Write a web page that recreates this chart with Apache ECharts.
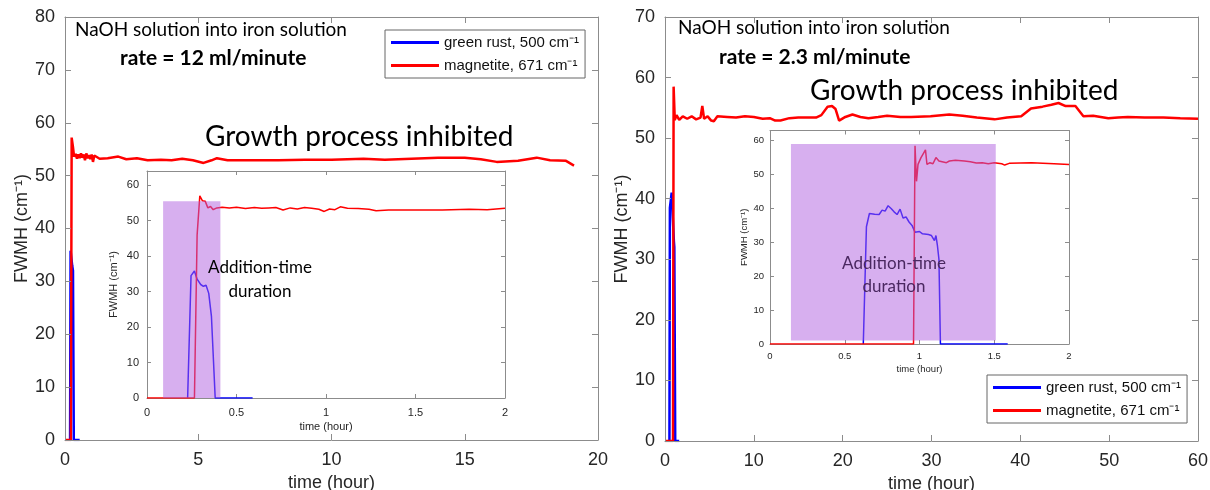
<!DOCTYPE html>
<html><head><meta charset="utf-8">
<script src="https://cdn.jsdelivr.net/npm/echarts@6/dist/echarts.min.js"></script>
<style>html,body{margin:0;padding:0;background:#fff}#c{width:1210px;height:490px}</style>
</head><body><div id="c"></div>
<script>
// ---------- data ----------
const seriesNames = ['green rust, 500 cm⁻¹', 'magnetite, 671 cm⁻¹'];
const leftMainTicks = { xMax: 20, xStep: 5, yMax: 80, yStep: 10 };
const rightMainTicks = { xMax: 60, xStep: 10, yMax: 70, yStep: 10 };
const insetTicks = { xMax: 2, xStep: 0.5, yStep: 10 };

const leftMainBlue = [[0.19,0],[0.21,35.8],[0.27,33],[0.3,32],[0.33,0],[0.55,0]];
const leftMainRed = [[0,0],[0.22,0],[0.25,57.2],[0.3,55.4],[0.34,53.6],[0.4,54.1],[0.45,53.2],[0.5,54.0],[0.55,53.3],[0.6,54.2],[0.65,53.4],[0.7,54.0],[0.75,52.9],[0.8,54.2],[0.85,53.3],[0.9,53.9],[0.95,53.1],[1.0,54.0],[1.05,52.6],[1.1,53.8],[1.3,53.2],[1.6,53.3],[2.0,53.6],[2.3,53.1],[2.7,53.3],[3.1,52.9],[3.6,53.0],[4.0,52.9],[4.4,53.2],[4.8,52.9],[5.2,52.4],[5.5,52.9],[5.7,53.3],[6.1,52.9],[7,52.9],[8,52.9],[9,53.0],[10,53.0],[11.2,53.2],[12,53.0],[13,53.2],[14,53.4],[15,53.4],[15.6,53.1],[16.2,52.6],[17,52.8],[17.7,53.4],[18.2,52.9],[18.8,52.8],[19.1,51.9]];

const leftInsetBlue = [[0.227,0],[0.246,34.5],[0.265,35.8],[0.28,33.5],[0.3,32],[0.315,31.5],[0.33,31.8],[0.345,29.5],[0.36,23],[0.381,0],[0.59,0]];
const leftInsetRed = [[0,0],[0.265,0],[0.28,46],[0.295,57],[0.31,55.6],[0.325,55.5],[0.34,53.6],[0.355,54.0],[0.37,53.1],[0.39,53.6],[0.42,53.8],[0.46,53.6],[0.5,53.8],[0.55,53.4],[0.6,53.7],[0.64,53.5],[0.68,53.6],[0.72,53.7],[0.76,53.0],[0.8,53.6],[0.84,53.3],[0.88,53.7],[0.92,53.5],[0.96,53.2],[0.99,52.6],[1.02,53.3],[1.05,53.1],[1.08,53.9],[1.12,53.5],[1.18,53.4],[1.24,53.2],[1.28,52.8],[1.35,53.0],[1.5,53.0],[1.65,53.0],[1.8,53.2],[1.9,53.1],[2.0,53.5]];
const leftInsetBand = [0.09, 0.41, 0, 55.5];
const leftInsetYMax = 64;

const rightMainBlue = [[0.5,0],[0.55,38.5],[0.75,41],[1.0,33],[1.05,32],[1.15,0],[1.6,0]];
const rightMainRed = [[0,0],[0.9,0],[0.97,58.5],[1.1,53],[1.3,53.8],[1.6,53],[2,53.6],[2.5,53.2],[3,53.6],[3.5,53.1],[4.0,53.4],[4.2,55.3],[4.4,53.2],[4.8,53.6],[5.2,52.9],[5.5,52.8],[5.9,53.6],[7,53.5],[8,53.4],[9,53.6],[10,53.5],[11,53.2],[11.8,53.3],[12.4,52.9],[13,52.9],[14,53.3],[15,53.4],[16,53.4],[17,53.4],[17.6,53.8],[18.3,55.2],[18.8,55.3],[19.2,54.8],[19.6,52.9],[20.3,53.5],[21.1,53.9],[22,53.5],[22.9,53.3],[24,53.5],[25,53.7],[26.5,53.5],[27.7,53.5],[29.9,53.6],[32,53.9],[33.5,53.7],[35.1,53.4],[37.1,53.1],[38.5,53.4],[40.1,53.6],[41.2,54.9],[42.5,55.2],[43.5,55.5],[44.3,55.8],[45.1,55.3],[46.2,55.3],[47.1,53.6],[48.2,53.7],[49.9,53.3],[51,53.4],[52.1,53.5],[54,53.4],[56.1,53.4],[58,53.3],[60,53.2]];

const rightInsetBlue = [[0.624,0],[0.645,34.6],[0.665,38.5],[0.7,38.3],[0.73,38.2],[0.75,39.5],[0.77,39.2],[0.79,40.8],[0.81,40],[0.83,39],[0.85,38.2],[0.87,39.8],[0.89,37.2],[0.91,37.5],[0.93,36],[0.95,35],[0.97,33],[1.0,33.2],[1.02,32.5],[1.06,32.3],[1.08,32],[1.1,30.5],[1.11,32],[1.12,29],[1.13,25],[1.14,0],[1.59,0]];
const rightInsetRed = [[0,0],[0.96,0],[0.97,58.5],[0.98,48],[0.99,53],[1.01,55],[1.04,57.3],[1.05,53],[1.07,53.5],[1.09,53.2],[1.11,55],[1.13,54],[1.18,53.5],[1.2,54],[1.24,54.2],[1.3,54],[1.34,53.8],[1.38,53.4],[1.42,53.5],[1.46,53.2],[1.5,53.5],[1.55,53.2],[1.57,52.8],[1.6,53.3],[1.75,53.5],[1.9,53.2],[2.0,53.0]];
const rightInsetBand = [0.14, 1.51, 1, 59];
const rightInsetYMax = 63;

// ---------- build ----------
const AX = '#8c8c8c', LB = '#262626';
const grids = [
  { left: 65, top: 17, width: 533, height: 423, z: 2, outerBoundsMode: 'none', containLabel: false },
  { left: 665, top: 17, width: 533, height: 424, z: 2, outerBoundsMode: 'none', containLabel: false },
  { left: 147, top: 171, width: 358, height: 227, z: 5, show: true, backgroundColor: '#fff', borderWidth: 0, outerBoundsMode: 'none', containLabel: false },
  { left: 770, top: 130.5, width: 299, height: 213.5, z: 5, show: true, backgroundColor: '#fff', borderWidth: 0, outerBoundsMode: 'none', containLabel: false }
];
const xAxes = [], yAxes = [];
function addAxes(gi, xmax, xstep, ymax, ystep, o) {
  const z = o.z;
  const common = { gridIndex: gi, min: 0, splitLine: { show: false }, z: z,
    axisLine: { show: true, onZero: false, lineStyle: { color: AX, width: 1 } },
    axisTick: { show: true, inside: true, length: o.tick, lineStyle: { color: AX } } };
  xAxes.push(Object.assign({}, common, { type: 'value', position: 'bottom', max: xmax, interval: xstep,
    axisLabel: { color: LB, fontSize: o.lab, fontFamily: 'Liberation Sans', margin: o.xlm },
    name: 'time (hour)', nameLocation: 'middle', nameGap: o.xng,
    nameTextStyle: { color: LB, fontSize: o.nm, fontFamily: 'Liberation Sans' } }));
  xAxes.push(Object.assign({}, common, { type: 'value', position: 'top', max: xmax, interval: xstep, axisLabel: { show: false } }));
  yAxes.push(Object.assign({}, common, { type: 'value', position: 'left', max: ymax, interval: ystep,
    axisLabel: { color: LB, fontSize: o.lab, fontFamily: 'Liberation Sans', margin: o.lm, showMaxLabel: o.sml },
    name: 'FWMH (cm⁻¹)', nameLocation: 'middle', nameGap: o.yng, nameRotate: 90,
    nameTextStyle: { color: LB, fontSize: o.nm, fontFamily: 'Liberation Sans' } }));
  yAxes.push(Object.assign({}, common, { type: 'value', position: 'right', max: ymax, interval: ystep, axisLabel: { show: false } }));
}
addAxes(0, leftMainTicks.xMax, leftMainTicks.xStep, leftMainTicks.yMax, leftMainTicks.yStep, { z: 3, tick: 6, lab: 18, nm: 18, lm: 10, xlm: 11, xng: 32, yng: 30, sml: true });
addAxes(1, rightMainTicks.xMax, rightMainTicks.xStep, rightMainTicks.yMax, rightMainTicks.yStep, { z: 3, tick: 6, lab: 18, nm: 18, lm: 10, xlm: 11, xng: 32, yng: 30, sml: true });
addAxes(2, insetTicks.xMax, insetTicks.xStep, leftInsetYMax, insetTicks.yStep, { z: 6, tick: 4, lab: 11, nm: 11, lm: 8, xlm: 9, xng: 23, yng: 28, sml: false });
addAxes(3, insetTicks.xMax, insetTicks.xStep, rightInsetYMax, insetTicks.yStep, { z: 6, tick: 4, lab: 9.5, nm: 9.5, lm: 6, xlm: 7, xng: 20, yng: 20, sml: false });

function line(name, data, gi, color, w, z) {
  return { type: 'line', name: name, data: data, xAxisIndex: gi * 2, yAxisIndex: gi * 2,
    showSymbol: false, symbol: 'none', z: z, animation: false,
    lineStyle: { color: color, width: w }, itemStyle: { color: color } };
}
function band(b, gi) {
  return { type: 'line', data: [], xAxisIndex: gi * 2, yAxisIndex: gi * 2, z: 8, animation: false,
    markArea: { silent: true, z: 8, itemStyle: { color: 'rgba(176,96,224,0.5)' },
      data: [[{ xAxis: b[0], yAxis: b[2] }, { xAxis: b[1], yAxis: b[3] }]] } };
}
const series = [
  line(seriesNames[0], leftMainBlue, 0, '#0000ff', 2.5, 2),
  line(seriesNames[1], leftMainRed, 0, '#ff0000', 2.5, 2),
  line(seriesNames[0], rightMainBlue, 1, '#0000ff', 2.5, 2),
  line(seriesNames[1], rightMainRed, 1, '#ff0000', 2.5, 2),
  line(seriesNames[0], leftInsetBlue, 2, '#0000ff', 1.5, 7),
  line(seriesNames[1], leftInsetRed, 2, '#ff0000', 1.5, 7),
  line(seriesNames[0], rightInsetBlue, 3, '#0000ff', 1.5, 7),
  line(seriesNames[1], rightInsetRed, 3, '#ff0000', 1.5, 7),
  band(leftInsetBand, 2),
  band(rightInsetBand, 3)
];
function legend(l, t) {
  return { data: seriesNames, orient: 'vertical', left: l, top: t, icon: 'rect', itemWidth: 48, itemHeight: 3,
    itemGap: 8, padding: [5, 6, 5, 6], borderColor: '#666', borderWidth: 1, backgroundColor: '#fff',
    selectedMode: false, z: 20,
    textStyle: { color: '#111', fontSize: 15, fontFamily: 'Liberation Sans' } };
}
const F = 'Lato';
function txt(x, y, s, size, weight, color, align) {
  return { type: 'text', x: x, y: y, z: 100,
    style: { text: s, fontSize: size, fontWeight: weight || 'normal', fontFamily: F, fill: color || '#000',
      align: align || 'left', verticalAlign: 'middle' } };
}
const graphic = [
  txt(75, 30, 'NaOH solution into iron solution', 19),
  txt(120, 58, 'rate = 12 ml/minute', 21, 'bold'),
  txt(205, 137, 'Growth process inhibited', 28),
  txt(260, 268, 'Addition-time', 17, 'normal', '#000', 'center'),
  txt(260, 292, 'duration', 17, 'normal', '#000', 'center'),
  txt(678, 28, 'NaOH solution into iron solution', 19),
  txt(719, 57, 'rate = 2.3 ml/minute', 21, 'bold'),
  txt(810, 91, 'Growth process inhibited', 28),
  txt(894, 264, 'Addition-time', 17, 'normal', '#4a2860', 'center'),
  txt(894, 287, 'duration', 17, 'normal', '#4a2860', 'center')
];
const chart = echarts.init(document.getElementById('c'), null, { renderer: 'canvas' });
chart.setOption({
  animation: false, backgroundColor: '#fff',
  grid: grids, xAxis: xAxes, yAxis: yAxes, series: series,
  legend: [legend(385, 30), legend(987, 375)],
  graphic: graphic
});
</script></body></html>
